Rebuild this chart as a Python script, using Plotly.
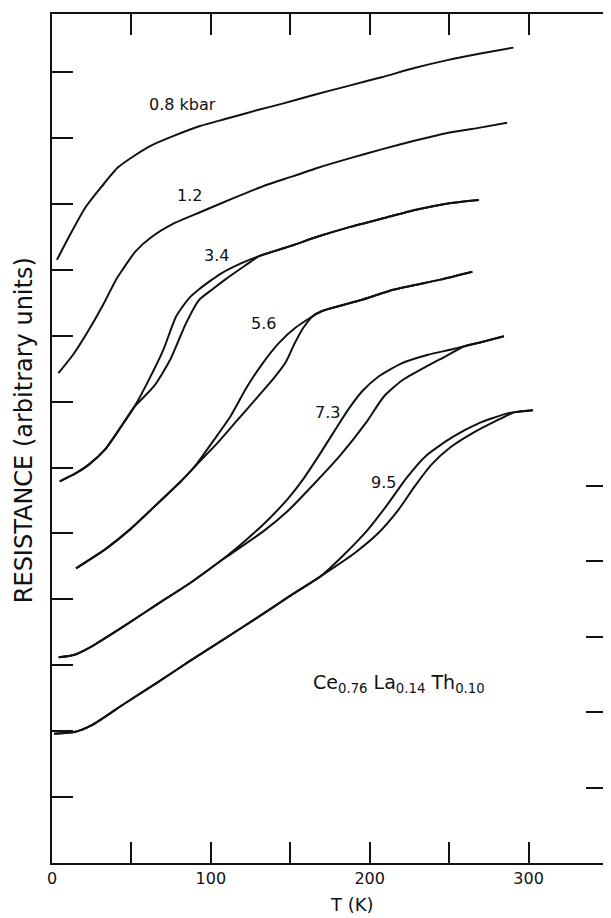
import plotly.graph_objects as go

# ---------------- data ----------------
# T in K, resistance in arbitrary units (1 unit = one left-axis tick)
T_08 = [3.1, 10.7, 20.9, 31.2, 41.4, 51.8, 62.1, 76.6, 93.2, 109.6, 130.6, 145.1, 165.8, 186.6, 207.4, 228.1, 248.9, 269.7, 290.5]
R_08 = [9.15, 9.50, 9.94, 10.26, 10.55, 10.73, 10.88, 11.03, 11.18, 11.29, 11.43, 11.52, 11.66, 11.79, 11.92, 12.06, 12.18, 12.28, 12.37]

T_12 = [4.0, 13.8, 22.0, 32.2, 40.3, 44.4, 52.6, 62.9, 77.3, 93.9, 114.6, 135.3, 151.9, 166.4, 187.2, 208.0, 228.7, 249.5, 270.3, 286.5]
R_12 = [7.43, 7.73, 8.04, 8.47, 8.85, 9.00, 9.28, 9.50, 9.71, 9.88, 10.09, 10.29, 10.42, 10.54, 10.69, 10.83, 10.96, 11.08, 11.16, 11.23]

# 3.4 kbar: common start, two branches, common end
T_34_start = [4.9, 14.8, 23.0, 33.3, 43.5, 51.8]
R_34_start = [5.79, 5.91, 6.04, 6.27, 6.62, 6.92]
T_34_a = [59.9, 70.0, 78.1, 86.3, 92.4, 100.7, 106.9, 119.3, 130.7]
R_34_a = [7.28, 7.78, 8.29, 8.57, 8.70, 8.85, 8.95, 9.10, 9.21]
T_34_b = [64.1, 74.3, 84.4, 92.5, 100.8, 109.0, 121.4, 130.7]
R_34_b = [7.23, 7.63, 8.19, 8.54, 8.70, 8.85, 9.06, 9.21]
T_34_end = [146.3, 152.6, 167.0, 187.8, 208.5, 229.2, 250.1, 268.7]
R_34_end = [9.33, 9.38, 9.50, 9.65, 9.78, 9.91, 10.01, 10.06]

# 5.6 kbar
T_56_start = [15.1, 34.1, 48.6, 65.0, 81.5, 89.7]
R_56_start = [4.47, 4.77, 5.05, 5.42, 5.80, 6.01]
T_56_a = [102.0, 112.2, 122.4, 132.6, 142.9, 153.2, 169.7]
R_56_a = [6.42, 6.77, 7.21, 7.58, 7.89, 8.12, 8.37]
T_56_b = [104.1, 116.4, 128.7, 139.8, 147.2, 152.7, 158.2, 164.3, 169.7]
R_56_b = [6.37, 6.71, 7.05, 7.36, 7.60, 7.88, 8.12, 8.30, 8.37]
T_56_end = [194.6, 215.4, 244.5, 264.6]
R_56_end = [8.54, 8.70, 8.85, 8.97]

# 7.3 kbar
T_73_start = [4.2, 14.2, 24.5, 45.1, 65.9, 86.5, 107.1]
R_73_start = [3.12, 3.16, 3.28, 3.59, 3.92, 4.24, 4.60]
T_73_a = [117.4, 127.8, 137.8, 148.3, 158.6, 168.8, 179.0, 187.1, 195.4, 205.6, 220.1, 236.7, 251.3, 259.6]
R_73_a = [4.80, 5.02, 5.25, 5.52, 5.84, 6.21, 6.60, 6.90, 7.16, 7.38, 7.58, 7.71, 7.79, 7.84]
T_73_b = [113.3, 134.0, 148.4, 164.9, 181.3, 197.7, 208.7, 220.3, 234.7, 247.2, 259.6]
R_73_b = [4.70, 5.05, 5.34, 5.75, 6.18, 6.68, 7.07, 7.32, 7.52, 7.68, 7.84]
T_73_end = [270.0, 284.5]
R_73_end = [7.90, 7.99]

# 9.5 kbar
T_95_start = [1.3, 14.8, 25.1, 45.8, 66.5, 87.1, 107.8, 128.5, 149.1, 169.7]
R_95_start = [1.96, 1.99, 2.09, 2.42, 2.74, 3.07, 3.39, 3.71, 4.04, 4.36]
T_95_a = [183.1, 198.6, 210.9, 223.1, 235.5, 252.0, 268.5, 285.1, 291.4]
R_95_a = [4.66, 5.05, 5.43, 5.84, 6.18, 6.46, 6.67, 6.81, 6.84]
T_95_b = [190.4, 204.8, 217.2, 228.2, 238.7, 251.0, 265.3, 278.9, 291.4]
R_95_b = [4.70, 4.99, 5.33, 5.71, 6.04, 6.31, 6.53, 6.70, 6.84]
T_95_end = [302.8]
R_95_end = [6.87]

# curve labels
label_text = ["0.8 kbar", "1.2", "3.4", "5.6", "7.3", "9.5"]
label_T = [82.0, 86.5, 103.8, 133.2, 173.2, 208.8]
label_R = [11.50, 10.12, 9.21, 8.18, 6.83, 5.78]

x_tickvals = [0, 100, 200, 300]
x_ticktext = ["0", "100", "200", "300"]
x_minorvals = [50, 150, 250]
left_ticks = list(range(1, 13))
right_ticks = [1, 2, 3, 4, 5]

FONT = "DejaVu Sans"
INK = "#111111"

fig = go.Figure()

def add(T, R):
    fig.add_trace(go.Scatter(x=T, y=R, mode="lines",
                             line=dict(color=INK, width=2, shape="spline", smoothing=0.6),
                             showlegend=False, hoverinfo="skip"))

add(T_08, R_08)
add(T_12, R_12)
for s, a, b, e in [
    ((T_34_start, R_34_start), (T_34_a, R_34_a), (T_34_b, R_34_b), (T_34_end, R_34_end)),
    ((T_56_start, R_56_start), (T_56_a, R_56_a), (T_56_b, R_56_b), (T_56_end, R_56_end)),
    ((T_73_start, R_73_start), (T_73_a, R_73_a), (T_73_b, R_73_b), (T_73_end, R_73_end)),
    ((T_95_start, R_95_start), (T_95_a, R_95_a), (T_95_b, R_95_b), (T_95_end, R_95_end)),
]:
    add(s[0] + a[0] + e[0], s[1] + a[1] + e[1])
    add(s[0] + b[0] + e[0], s[1] + b[1] + e[1])

# empty trace so the right-hand tick axis is drawn
fig.add_trace(go.Scatter(x=[None], y=[None], yaxis="y2", showlegend=False, hoverinfo="skip"))

for txt, t, r in zip(label_text, label_T, label_R):
    fig.add_annotation(x=t, y=r, text=txt, showarrow=False,
                       font=dict(family=FONT, size=16, color=INK))

fig.add_annotation(x=218.5, y=2.73,
                   text="Ce<sub>0.76</sub> La<sub>0.14</sub> Th<sub>0.10</sub>",
                   showarrow=False, font=dict(family=FONT, size=19, color=INK))

fig.add_annotation(x=188.75, y=-0.049, xref="x", yref="paper", text="T (K)",
                   showarrow=False, yanchor="middle",
                   font=dict(family=FONT, size=18, color=INK))
fig.add_annotation(x=-0.050, y=0.51, xref="paper", yref="paper",
                   text="RESISTANCE (arbitrary units)", textangle=-90,
                   showarrow=False, xanchor="center", yanchor="middle",
                   font=dict(family=FONT, size=24, color=INK))

# the page body adds an 8 px margin, so the figure is 8 px smaller on each axis
fig.update_layout(
    width=603, height=910,
    margin=dict(l=44, r=1, t=6, b=55),
    paper_bgcolor="white", plot_bgcolor="white",
    xaxis=dict(range=[0, 350], showline=True, linecolor=INK, linewidth=2,
               mirror="allticks", ticks="inside", ticklen=21, tickwidth=1.5, tickcolor=INK,
               tickvals=x_tickvals, ticktext=x_ticktext,
               minor=dict(tickvals=x_minorvals, ticks="inside", ticklen=12,
                          tickwidth=1.5, tickcolor=INK),
               showgrid=False, zeroline=False,
               tickfont=dict(family=FONT, size=16, color=INK)),
    yaxis=dict(range=[0, 12.88], showline=True, linecolor=INK, linewidth=2,
               mirror=True, ticks="inside", ticklen=21, tickwidth=1.5, tickcolor=INK,
               tickvals=left_ticks, showticklabels=False,
               showgrid=False, zeroline=False),
    yaxis2=dict(overlaying="y", side="right", range=[0, 849 / 75.5],
                ticks="inside", ticklen=22, tickwidth=1.5, tickcolor=INK,
                tickvals=right_ticks, showticklabels=False,
                showline=False, showgrid=False, zeroline=False),
)

fig.write_html("out.html")
